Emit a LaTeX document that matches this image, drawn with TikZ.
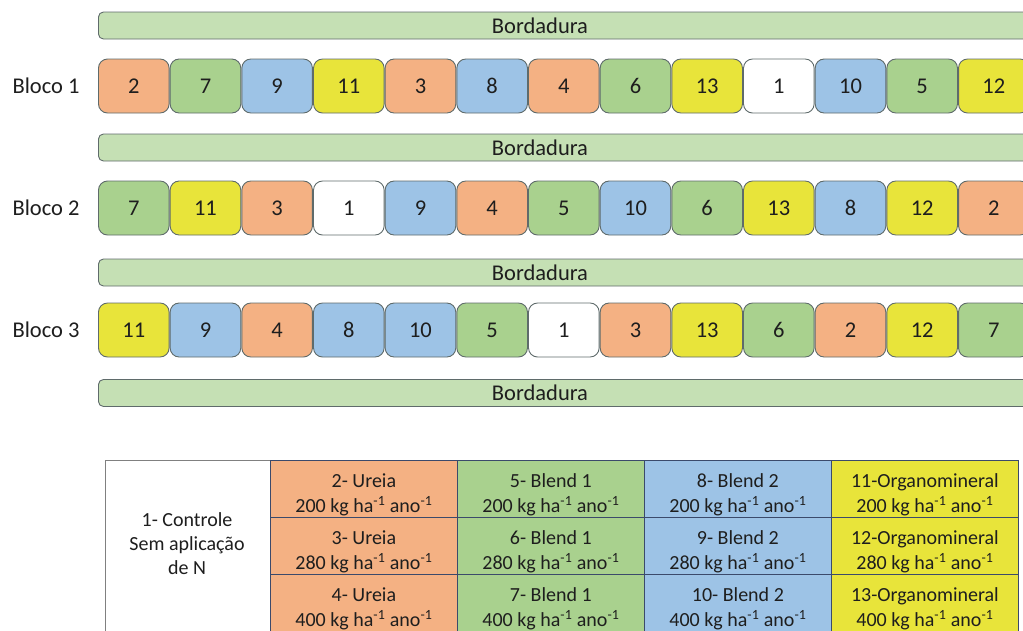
\documentclass[tikz,border=0pt]{standalone}
\usepackage{fontspec}
\setmainfont{Carlito}
\definecolor{urea}{HTML}{F4B183}
\definecolor{blendA}{HTML}{A9D18E}
\definecolor{blendB}{HTML}{9DC3E6}
\definecolor{organo}{HTML}{E8E43A}
\definecolor{none}{HTML}{FFFFFF}
\definecolor{borderfill}{HTML}{C5E0B4}
\definecolor{edge}{HTML}{5F6B6B}
\definecolor{ink}{HTML}{1E1E1E}
\definecolor{gridline}{HTML}{3B4A6B}
\newcommand{\dose}[1]{#1 kg ha\textsuperscript{-1} ano\textsuperscript{-1}}
\begin{document}
\begin{tikzpicture}[x=1pt,y=-1pt,
  plotbox/.style={draw=edge, line width=0.9pt, rounded corners=9pt,
    minimum width=70.6pt, minimum height=54pt, inner sep=0pt,
    text=ink, font=\fontsize{22.5}{24}\selectfont},
  borderbar/.style={draw=edge, line width=0.9pt, rounded corners=5pt,
    fill=borderfill, minimum width=950pt, minimum height=27pt,
    inner sep=0pt, anchor=west},
  bartext/.style={text=ink, font=\fontsize{22.5}{24}\selectfont},
  blocklabel/.style={text=ink, font=\fontsize{22.5}{24}\selectfont},
  cell/.style={draw=gridline, line width=0.8pt, minimum width=187pt,
    minimum height=57pt, inner sep=0pt, anchor=north west},
  celltext/.style={align=center, inner sep=0pt, text=ink,
    font=\fontsize{20}{25.5}\selectfont},
  ctrlcell/.style={draw=gray, line width=0.8pt, fill=white,
    minimum width=165pt, minimum height=180pt, inner sep=0pt,
    anchor=north west}]
\useasboundingbox (0,0) rectangle (1023,630);
\clip (0,0) rectangle (1023,630);

% border strips
\foreach \y [count=\k] in {25.5,147.5,272.5,393} {
  \node[borderbar] (bar\k) at (98,\y) {};
  \node[bartext] (bartxt\k) at (540,\y) {Bordadura};
}

% block labels
\node[blocklabel] (lab1) at (46,86) {Bloco 1};
\node[blocklabel] (lab2) at (46,208) {Bloco 2};
\node[blocklabel] (lab3) at (46,330) {Bloco 3};

% plots of block 1
\foreach \n/\c [count=\i from 0] in {2/urea,7/blendA,9/blendB,11/organo,3/urea,8/blendB,4/urea,6/blendA,13/organo,1/none,10/blendB,5/blendA,12/organo}
  \node[plotbox, fill=\c] (p1-\i) at ({133.8+71.67*\i},86) {\n};

% plots of block 2
\foreach \n/\c [count=\i from 0] in {7/blendA,11/organo,3/urea,1/none,9/blendB,4/urea,5/blendA,10/blendB,6/blendA,13/organo,8/blendB,12/organo,2/urea}
  \node[plotbox, fill=\c] (p2-\i) at ({133.8+71.67*\i},208) {\n};

% plots of block 3
\foreach \n/\c [count=\i from 0] in {11/organo,9/blendB,4/urea,8/blendB,10/blendB,5/blendA,1/none,3/urea,13/organo,6/blendA,2/urea,12/organo,7/blendA}
  \node[plotbox, fill=\c] (p3-\i) at ({133.8+71.67*\i},330) {\n};

% legend table: control column
\node[ctrlcell] (ctrl) at (105,460) {};
\node[celltext, font=\fontsize{20}{24}\selectfont] (ctrltxt) at (187,544)
  {1- Controle\\Sem aplicação\\de N};

% legend table: one column per source, one row per dose
\foreach \col/\x/\c in {0/270/urea,1/457/blendA,2/644/blendB,3/831/organo} {
  \foreach \row/\y in {0/460,1/517,2/574} {
    \node[cell, fill=\c] (c\col-\row) at (\x,\y) {};
  }
}

\node[celltext] (t2)  at ([yshift=-6pt]c0-0.center) {2- Ureia\\\dose{200}};
\node[celltext] (t3)  at ([yshift=-6pt]c0-1.center) {3- Ureia\\\dose{280}};
\node[celltext] (t4)  at ([yshift=-6pt]c0-2.center) {4- Ureia\\\dose{400}};
\node[celltext] (t5)  at ([yshift=-6pt]c1-0.center) {5- Blend 1\\\dose{200}};
\node[celltext] (t6)  at ([yshift=-6pt]c1-1.center) {6- Blend 1\\\dose{280}};
\node[celltext] (t7)  at ([yshift=-6pt]c1-2.center) {7- Blend 1\\\dose{400}};
\node[celltext] (t8)  at ([yshift=-6pt]c2-0.center) {8- Blend 2\\\dose{200}};
\node[celltext] (t9)  at ([yshift=-6pt]c2-1.center) {9- Blend 2\\\dose{280}};
\node[celltext] (t10) at ([yshift=-6pt]c2-2.center) {10- Blend 2\\\dose{400}};
\node[celltext] (t11) at ([yshift=-6pt]c3-0.center) {11-Organomineral\\\dose{200}};
\node[celltext] (t12) at ([yshift=-6pt]c3-1.center) {12-Organomineral\\\dose{280}};
\node[celltext] (t13) at ([yshift=-6pt]c3-2.center) {13-Organomineral\\\dose{400}};
\end{tikzpicture}
\end{document}
